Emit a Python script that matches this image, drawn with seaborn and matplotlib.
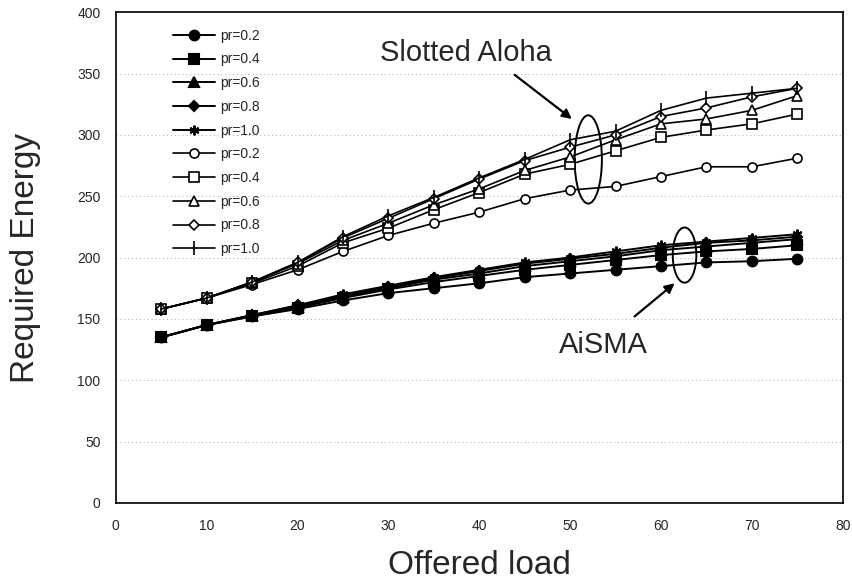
import numpy as np
import pandas as pd
from matplotlib import pyplot as plt
from matplotlib.patches import Ellipse
import seaborn as sns

sns.set_style('white')
plt.rcParams['font.family'] = ['Liberation Sans', 'DejaVu Sans']

offered_load = [5, 10, 15, 20, 25, 30, 35, 40, 45, 50, 55, 60, 65, 70, 75]
pr_labels = ['pr=0.2', 'pr=0.4', 'pr=0.6', 'pr=0.8', 'pr=1.0']

# AiSMA (filled markers)
aisma = [
    [135, 145, 152, 158, 165, 171, 175, 179, 184, 187, 190, 193, 196, 197, 199],
    [135, 145, 152, 159, 167, 174, 180, 185, 190, 194, 198, 202, 205, 207, 210],
    [135, 145, 153, 160, 168, 175, 182, 187, 193, 197, 201, 206, 209, 212, 215],
    [135, 145, 153, 161, 169, 176, 183, 189, 195, 199, 203, 208, 212, 214, 217],
    [135, 145, 153, 161, 170, 177, 184, 190, 196, 200, 205, 210, 213, 216, 219],
]
# Slotted Aloha (open markers)
slotted = [
    [158, 167, 178, 190, 205, 218, 228, 237, 248, 255, 258, 266, 274, 274, 281],
    [158, 167, 179, 193, 212, 224, 239, 253, 268, 276, 287, 298, 304, 309, 317],
    [158, 167, 180, 195, 214, 228, 243, 256, 271, 282, 296, 309, 313, 320, 332],
    [158, 167, 180, 196, 216, 232, 248, 264, 279, 290, 300, 315, 322, 331, 338],
    [158, 167, 180, 196, 217, 234, 249, 265, 280, 296, 303, 320, 330, 334, 338],
]

filled_markers = ['o', 's', '^', 'D', (6, 2, 0)]
open_markers = ['o', 's', '^', 'D', '|']
filled_sizes = [7, 7, 7, 5.5, 7]
open_sizes = [6.5, 7, 7, 5, 10]

fig, ax = plt.subplots(figsize=(8.52, 5.84), dpi=100)
fig.subplots_adjust(left=0.136, right=0.989, bottom=0.139, top=0.979)

for vals, lab, mk, ms in zip(aisma, pr_labels, filled_markers, filled_sizes):
    df = pd.DataFrame({'load': offered_load, 'energy': vals})
    sns.lineplot(data=df, x='load', y='energy', ax=ax, color='black',
                 marker=mk, markersize=ms,
                 markerfacecolor='black', markeredgecolor='black',
                 markeredgewidth=1.5, linewidth=1.4, label=lab)

for vals, lab, mk, ms in zip(slotted, pr_labels, open_markers, open_sizes):
    df = pd.DataFrame({'load': offered_load, 'energy': vals})
    sns.lineplot(data=df, x='load', y='energy', ax=ax, color='black',
                 marker=mk, markersize=ms,
                 markerfacecolor='white', markeredgecolor='black',
                 markeredgewidth=1.2, linewidth=1.2, label=lab)

ax.set_xlim(0, 80)
ax.set_ylim(0, 400)
ax.set_xticks(np.arange(0, 81, 10))
ax.set_yticks(np.arange(0, 401, 50))
ax.tick_params(axis='both', labelsize=10, length=0)
ax.tick_params(axis='x', pad=12)
ax.tick_params(axis='y', pad=11)
ax.yaxis.grid(True, linestyle=(0, (1, 3)), color='#aaaaaa', linewidth=0.7)
ax.xaxis.grid(False)
for s in ax.spines.values():
    s.set_color('black')
    s.set_linewidth(1.2)

ax.set_xlabel('Offered load', fontsize=24, labelpad=12)
ax.set_ylabel('Required Energy', fontsize=24, labelpad=26)

leg = ax.legend(loc='upper left', bbox_to_anchor=(0.062, 0.992), frameon=False,
                fontsize=10, handlelength=3.0, labelspacing=0.7, handletextpad=0.35)

# annotations
ax.add_patch(Ellipse((52.0, 280), 3.0, 72, fill=False, edgecolor='black', linewidth=1.4))
ax.add_patch(Ellipse((62.6, 202), 2.6, 45, fill=False, edgecolor='black', linewidth=1.4))

ax.text(38.5, 367, 'Slotted Aloha', fontsize=21, ha='center', va='center')
ax.annotate('', xy=(50.2, 313), xytext=(43.9, 349),
            arrowprops=dict(arrowstyle='-|>', color='black', lw=1.6,
                            shrinkA=0, shrinkB=0, mutation_scale=14))
ax.text(53.7, 129, 'AiSMA', fontsize=21, ha='center', va='center')
ax.annotate('', xy=(61.5, 179), xytext=(57.1, 152),
            arrowprops=dict(arrowstyle='-|>', color='black', lw=1.6,
                            shrinkA=0, shrinkB=0, mutation_scale=14))

fig.savefig('out.png', dpi=100)
